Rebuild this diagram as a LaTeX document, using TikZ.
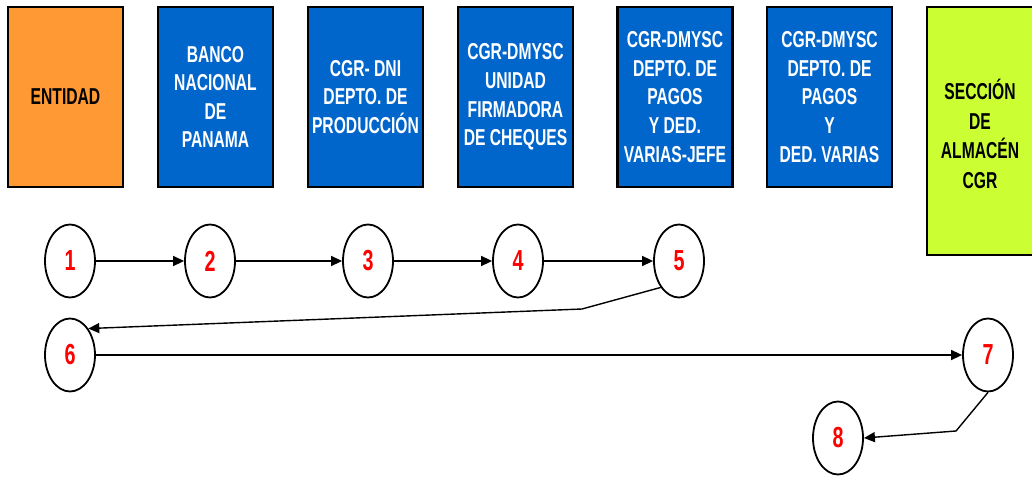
\documentclass[tikz,border=0pt]{standalone}
\usepackage{fontspec}
\setmainfont[FakeStretch=0.68]{Liberation Sans}
\usetikzlibrary{arrows.meta,shapes.geometric}
\definecolor{entorange}{HTML}{FF9933}
\definecolor{deptblue}{HTML}{0066CC}
\definecolor{almlime}{HTML}{CCFF33}
\definecolor{numred}{HTML}{FF0000}
\begin{document}
\begin{tikzpicture}[x=1pt,y=-1pt,
  box/.style={draw=black,line width=2.6pt,rectangle,inner sep=0pt,
    minimum width=115pt,minimum height=180pt,align=center,
    font=\fontsize{23}{28.6}\selectfont\bfseries},
  bluebox/.style={box,fill=deptblue,text=white},
  stepcirc/.style={draw=black,line width=1.8pt,ellipse,fill=white,inner sep=0pt,
    minimum width=50pt,minimum height=73pt,text=numred,
    font=\fontsize{29}{30}\selectfont\bfseries},
  flow/.style={line width=1.4pt,-{Triangle[length=11pt,width=10pt]}}]
\useasboundingbox (0,0) rectangle (1032,476);
\fill[white] (0,0) rectangle (1032,476);
% boxes
\node[box,fill=entorange,text=black] (b1) at (65.5,97) {ENTIDAD};
\node[bluebox] (b2) at (215.5,97) {BANCO\\NACIONAL\\DE\\PANAMA};
\node[bluebox] (b3) at (365.5,97) {CGR- DNI\\DEPTO. DE\\PRODUCCIÓN};
\node[bluebox] (b4) at (515.5,97) {CGR-DMYSC\\UNIDAD\\FIRMADORA\\DE CHEQUES};
\node[bluebox] (b5) at (675,97) {CGR-DMYSC\\DEPTO. DE\\PAGOS\\Y DED.\\VARIAS-JEFE};
\node[bluebox,minimum width=125pt] (b6) at (829.5,97) {CGR-DMYSC\\DEPTO. DE\\PAGOS\\Y\\DED. VARIAS};
\node[box,fill=almlime,text=black,minimum width=130pt,minimum height=248pt] (b7) at (992,131) {};
\node[font=\fontsize{23}{29.5}\selectfont\bfseries,align=center,text=black] (b7t) at (980,134) {SECCIÓN\\DE\\ALMACÉN\\CGR};
% steps
\node[stepcirc] (c1) at (70,261) {1};
\node[stepcirc] (c2) at (210,261) {2};
\node[stepcirc] (c3) at (368,261) {3};
\node[stepcirc] (c4) at (518,261) {4};
\node[stepcirc] (c5) at (679,261) {5};
\node[stepcirc] (c6) at (70,355) {6};
\node[stepcirc] (c7) at (988,355) {7};
\node[stepcirc] (c8) at (838,438) {8};
\coordinate (k56) at (582,309);
\coordinate (k78) at (956,431);
% connectors
\draw[flow] (c1) -- (c2);
\draw[flow] (c2) -- (c3);
\draw[flow] (c3) -- (c4);
\draw[flow] (c4) -- (c5);
\draw[flow] (c5.south west) -- (k56) -- (c6.north east);
\draw[flow] (c6) -- (c7);
\draw[flow] (c7.south) -- (k78) -- (c8.east);
\end{tikzpicture}
\end{document}
